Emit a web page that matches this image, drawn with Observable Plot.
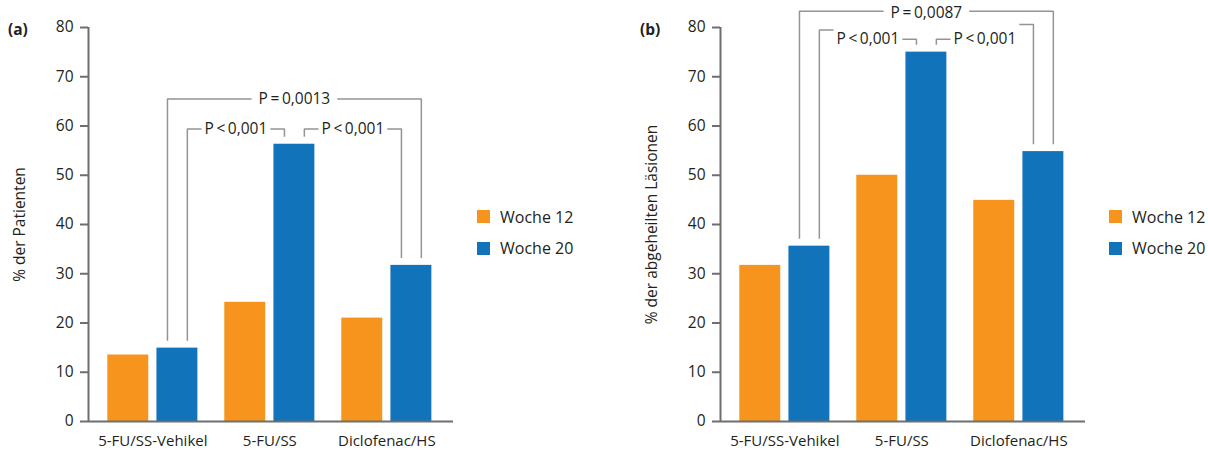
<!DOCTYPE html>
<html><head><meta charset="utf-8">
<script src="https://cdn.jsdelivr.net/npm/d3@7"></script>
<script src="https://cdn.jsdelivr.net/npm/@observablehq/plot@0.6"></script>
<style>
body{margin:0;background:#fff;font-family:"Open Sans",sans-serif;color:#231f20}
#root{position:relative;width:1208px;height:453px;overflow:hidden}
.panel{position:absolute;top:0}
.tag{position:absolute;top:21px;font-weight:bold;font-size:15.5px;line-height:16px;font-family:"Open Sans",sans-serif}
.leg{position:absolute;top:201px}
.lg-swatch{display:flex!important;align-items:center!important;height:31.5px;padding:0!important;margin:0!important}
.lg-swatch svg{margin-right:10px!important}
</style></head><body><div id="root"></div>
<script>
// ---- data ----
const categories = ["5-FU/SS-Vehikel", "5-FU/SS", "Diclofenac/HS"];
const seriesNames = ["Woche 12", "Woche 20"];
const seriesColors = ["#f7941d", "#1173ba"];
const yTicks = [0, 10, 20, 30, 40, 50, 60, 70, 80];

const patientsW12 = [13.5, 24.2, 21.0];
const patientsW20 = [14.9, 56.3, 31.7];
const lesionsW12 = [31.7, 50.0, 44.9];
const lesionsW20 = [35.6, 75.0, 54.8];

// brackets: from/to group index, level at left end, right end, label level
const bracketsA = [
  {label: "P\u2009=\u20090,0013", from: 0, to: 2, left: 65.5, right: 65.5, text: 65.5},
  {label: "P\u2009<\u20090,001", from: 0, to: 1, left: 59.4, right: 59.4, text: 59.4},
  {label: "P\u2009<\u20090,001", from: 1, to: 2, left: 59.4, right: 59.4, text: 59.4}
];
const bracketsB = [
  {label: "P\u2009=\u20090,0087", from: 0, to: 2, left: 83.3, right: 83.3, text: 83.0},
  {label: "P\u2009<\u20090,001", from: 0, to: 1, left: 79.5, right: 77.6, text: 77.7},
  {label: "P\u2009<\u20090,001", from: 1, to: 2, left: 77.6, right: 80.6, text: 77.7}
];

// ---- layout / style ----
const AXIS = "#6d6e71", BRK = "#949494", TEXT = "#231f20";
const FS = 15.5;
const X_MIN = -0.05, X_MAX = 3.07;
const BAR_W = 0.35, PAIR_GAP = 0.07, LEG_OFF = 0.085, LEG_GAP = 1.5;
const W = 460, H = 453, ML = 88, MR = 7, MT = 27, MB = 32;
const center = i => i + 0.5;
const blueCenter = i => center(i) + PAIR_GAP / 2 + BAR_W / 2;

const ctx = document.createElement("canvas").getContext("2d");
ctx.font = FS + "px 'Open Sans'";

function panel({w12, w20, yLabel, brackets, left, tag}) {
  const rows = categories.flatMap((c, i) => [
    {cat: c, i, s: 0, series: seriesNames[0], value: w12[i]},
    {cat: c, i, s: 1, series: seriesNames[1], value: w20[i]}
  ]);
  const pxPerUnit = (W - ML - MR) / (X_MAX - X_MIN);
  const segs = [], labels = [];
  brackets.forEach((b, k) => {
    const wide = b.to - b.from > 1;
    const xl = blueCenter(b.from) + (wide ? -LEG_OFF : LEG_OFF);
    const xr = blueCenter(b.to) + (wide ? LEG_OFF : -LEG_OFF);
    const xt = wide ? blueCenter((b.from + b.to) / 2) : (xl + xr) / 2;
    const hg = (ctx.measureText(b.label).width / 2 + (wide ? 7 : 3)) / pxPerUnit;
    const yl = w20[b.from] + LEG_GAP, yr = w20[b.to] + LEG_GAP;
    segs.push({k: k + "L", x: xl, y: yl}, {k: k + "L", x: xl, y: b.left}, {k: k + "L", x: xt - hg, y: b.left});
    segs.push({k: k + "R", x: xt + hg, y: b.right}, {k: k + "R", x: xr, y: b.right}, {k: k + "R", x: xr, y: yr});
    labels.push({x: xt, y: b.text, label: b.label});
  });

  const chart = Plot.plot({
    width: W, height: H, marginLeft: ML, marginRight: MR, marginTop: MT, marginBottom: MB,
    style: {fontFamily: "'Open Sans', sans-serif", fontSize: FS + "px", color: TEXT, background: "transparent", overflow: "visible"},
    x: {domain: [X_MIN, X_MAX], axis: null},
    y: {domain: [0, 80], axis: null},
    color: {domain: seriesNames, range: seriesColors},
    marks: [
      Plot.rectY(rows, {
        x1: d => d.s === 0 ? center(d.i) - PAIR_GAP / 2 - BAR_W : center(d.i) + PAIR_GAP / 2,
        x2: d => d.s === 0 ? center(d.i) - PAIR_GAP / 2 : center(d.i) + PAIR_GAP / 2 + BAR_W,
        y1: 0, y2: "value", fill: "series"
      }),
      Plot.ruleX([X_MIN], {y1: 0, y2: 80, stroke: AXIS, strokeWidth: 2}),
      Plot.ruleY([0], {stroke: AXIS, strokeWidth: 2}),
      Plot.axisY({ticks: yTicks, tickSize: 8, tickPadding: 7, stroke: AXIS, strokeWidth: 2, fill: TEXT, fontSize: FS,
        label: yLabel, labelAnchor: "center", labelOffset: 75, labelArrow: "none"}),
      Plot.axisX({ticks: categories.map((c, i) => center(i)), tickFormat: v => categories[Math.floor(v)],
        tickSize: 0, tickPadding: 14, fill: TEXT, fontSize: 15, label: null}),
      Plot.line(segs, {x: "x", y: "y", z: "k", stroke: BRK, strokeWidth: 1.5, strokeLinejoin: "miter", strokeLinecap: "butt"}),
      Plot.text(labels, {x: "x", y: "y", text: "label", fill: TEXT, fontSize: FS, lineAnchor: "middle"})
    ]
  });
  chart.classList.add("panel");
  chart.style.left = left + "px";
  const root = document.getElementById("root");
  root.appendChild(chart);

  const t = document.createElement("div");
  t.className = "tag"; t.textContent = tag;
  t.style.left = (left + ML - 80) + "px";
  root.appendChild(t);

  const lg = chart.legend("color", {legend: "swatches", columns: 1, swatchSize: 13, className: "lg",
    style: {fontFamily: "'Open Sans', sans-serif", fontSize: "16px", color: TEXT}});
  const wrap = document.createElement("div");
  wrap.className = "leg";
  wrap.style.left = (left + ML + 389) + "px";
  wrap.appendChild(lg);
  root.appendChild(wrap);
}

panel({w12: patientsW12, w20: patientsW20, yLabel: "% der Patienten", brackets: bracketsA, left: 0, tag: "(a)"});
panel({w12: lesionsW12, w20: lesionsW20, yLabel: "% der abgeheilten Läsionen", brackets: bracketsB, left: 632, tag: "(b)"});
</script></body></html>
